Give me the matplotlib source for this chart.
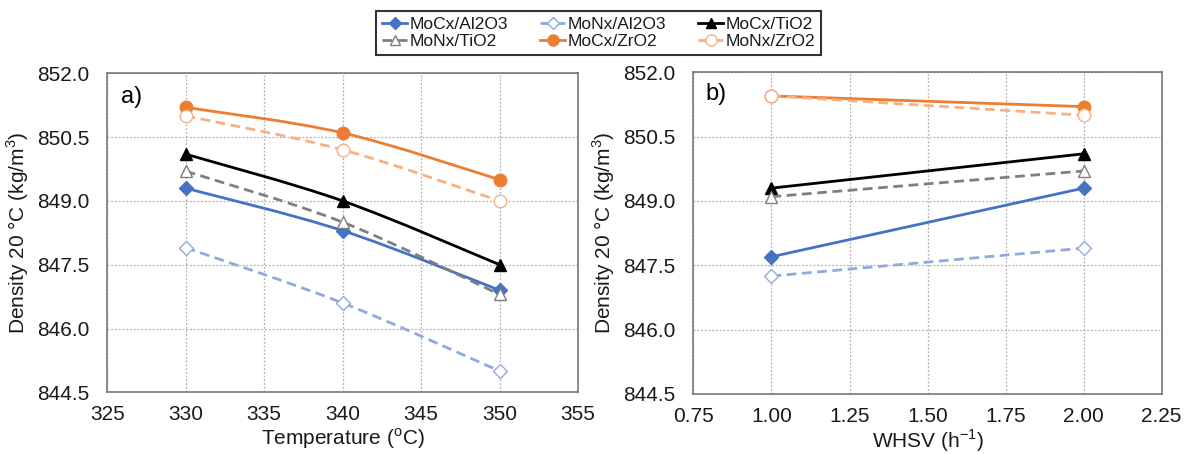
import numpy as np
import matplotlib
matplotlib.use("Agg")
from matplotlib import pyplot as plt
from matplotlib.path import Path
from matplotlib.patches import PathPatch
from matplotlib.lines import Line2D
from matplotlib.ticker import FormatStrFormatter, MultipleLocator

plt.rcParams['font.family'] = ['Liberation Sans', 'DejaVu Sans']

# a) density vs reaction temperature
temp = [330, 340, 350]
temp_mocx_al = [849.3, 848.3, 846.9]
temp_monx_al = [847.9, 846.6, 845.0]
temp_mocx_ti = [850.1, 849.0, 847.5]
temp_monx_ti = [849.7, 848.5, 846.8]
temp_mocx_zr = [851.2, 850.6, 849.5]
temp_monx_zr = [851.0, 850.2, 849.0]

# b) density vs WHSV
whsv = [1.0, 2.0]
whsv_mocx_al = [847.7, 849.3]
whsv_monx_al = [847.25, 847.9]
whsv_mocx_ti = [849.3, 850.1]
whsv_monx_ti = [849.1, 849.7]
whsv_mocx_zr = [851.45, 851.2]
whsv_monx_zr = [851.45, 851.0]

names = ["MoCx/Al2O3", "MoNx/Al2O3", "MoCx/TiO2", "MoNx/TiO2", "MoCx/ZrO2", "MoNx/ZrO2"]

# colour, linestyle, marker, filled, markersize
styles = [
    ("#4472C4", "-", "D", True, 7),
    ("#8FAADC", (0, (3.5, 2)), "D", False, 7),
    ("black", "-", "^", True, 8.5),
    ("#7F7F7F", (0, (3.5, 2)), "^", False, 8.5),
    ("#ED7D31", "-", "o", True, 9),
    ("#F4B183", (0, (3.5, 2)), "o", False, 9),
]
txt = "#1a1a1a"


def smooth_path(x, y):
    # Catmull-Rom style bezier through the points (like spreadsheet "smoothed line")
    pts = np.column_stack([x, y]).astype(float)
    n = len(pts)
    verts = [pts[0]]
    codes = [Path.MOVETO]
    for i in range(n - 1):
        p0 = pts[max(i - 1, 0)]
        p1 = pts[i]
        p2 = pts[i + 1]
        p3 = pts[min(i + 2, n - 1)]
        verts += [p1 + (p2 - p0) / 6.0, p2 - (p3 - p1) / 6.0, p2]
        codes += [Path.CURVE4] * 3
    return Path(verts, codes)


def draw_panel(ax, x, series, smooth):
    for k, (ys, (c, ls, mk, filled, ms)) in enumerate(zip(series, styles)):
        if smooth:
            patch = PathPatch(smooth_path(x, ys), fill=False, edgecolor=c, lw=2.0,
                              linestyle=ls, zorder=3 + k)
            ax.add_patch(patch)
        else:
            ax.plot(x, ys, color=c, lw=2.0, linestyle=ls, zorder=3 + k)
        ax.plot(x, ys, ls="none", marker=mk, markersize=ms, markeredgecolor=c,
                markerfacecolor=c if filled else "white", markeredgewidth=1.0,
                zorder=3.5 + k)
    ax.set_ylim(844.5, 852.0)
    ax.yaxis.set_major_locator(MultipleLocator(1.5))
    ax.yaxis.set_major_formatter(FormatStrFormatter("%.1f"))
    ax.grid(True, color="#B0B0B0", linestyle=(0, (1.5, 1.5)), lw=0.9)
    ax.set_axisbelow(True)
    for sp in ax.spines.values():
        sp.set_color("#6E6E6E")
        sp.set_linewidth(1.1)
    ax.tick_params(length=0, labelsize=15, colors=txt)
    ax.tick_params(axis="y", pad=13)
    ax.tick_params(axis="x", pad=9.5)
    ax.set_ylabel("Density 20 °C (kg/m$^\\mathregular{3}$)", fontsize=15,
                  color=txt, labelpad=4)


fig = plt.figure(figsize=(11.84, 4.54), dpi=100)
ax1 = fig.add_axes([0.0905, 0.1359, 0.3978, 0.7026])
ax2 = fig.add_axes([0.5857, 0.1322, 0.3954, 0.7085])

draw_panel(ax1, temp, [temp_mocx_al, temp_monx_al, temp_mocx_ti,
                       temp_monx_ti, temp_mocx_zr, temp_monx_zr], smooth=True)
ax1.set_xlim(325, 355)
ax1.xaxis.set_major_locator(MultipleLocator(5))
ax1.set_xlabel("Temperature ($^\\mathregular{o}$C)", fontsize=15, color=txt, labelpad=1)
ax1.text(0.029, 0.927, "a)", transform=ax1.transAxes, fontsize=17, va="center")

draw_panel(ax2, whsv, [whsv_mocx_al, whsv_monx_al, whsv_mocx_ti,
                       whsv_monx_ti, whsv_mocx_zr, whsv_monx_zr], smooth=False)
ax2.set_xlim(0.75, 2.25)
ax2.xaxis.set_major_locator(MultipleLocator(0.25))
ax2.xaxis.set_major_formatter(FormatStrFormatter("%.2f"))
ax2.set_xlabel("WHSV (h$^\\mathregular{-1}$)", fontsize=15, color=txt, labelpad=1)
ax2.text(0.026, 0.933, "b)", transform=ax2.transAxes, fontsize=17, va="center")

handles = []
for name, (c, ls, mk, filled, ms) in zip(names, styles):
    handles.append(Line2D([], [], color=c, lw=2.0, linestyle=ls, marker=mk,
                          markersize=ms - 1, markeredgecolor=c,
                          markerfacecolor=c if filled else "white", label=name))
# column-wise fill so rows read left to right
order = [0, 3, 1, 4, 2, 5]
leg = fig.legend([handles[i] for i in order], [names[i] for i in order],
                 ncol=3, loc="center", bbox_to_anchor=(0.5055, 0.927),
                 fontsize=12.5, frameon=True, fancybox=False, handlelength=1.45,
                 handletextpad=0.12, columnspacing=1.85, labelspacing=0.1,
                 borderpad=0.35, borderaxespad=0)
leg.get_frame().set_edgecolor("black")
leg.get_frame().set_linewidth(1.5)
for t in leg.get_texts():
    t.set_color(txt)

fig.savefig("out.png", dpi=100)
